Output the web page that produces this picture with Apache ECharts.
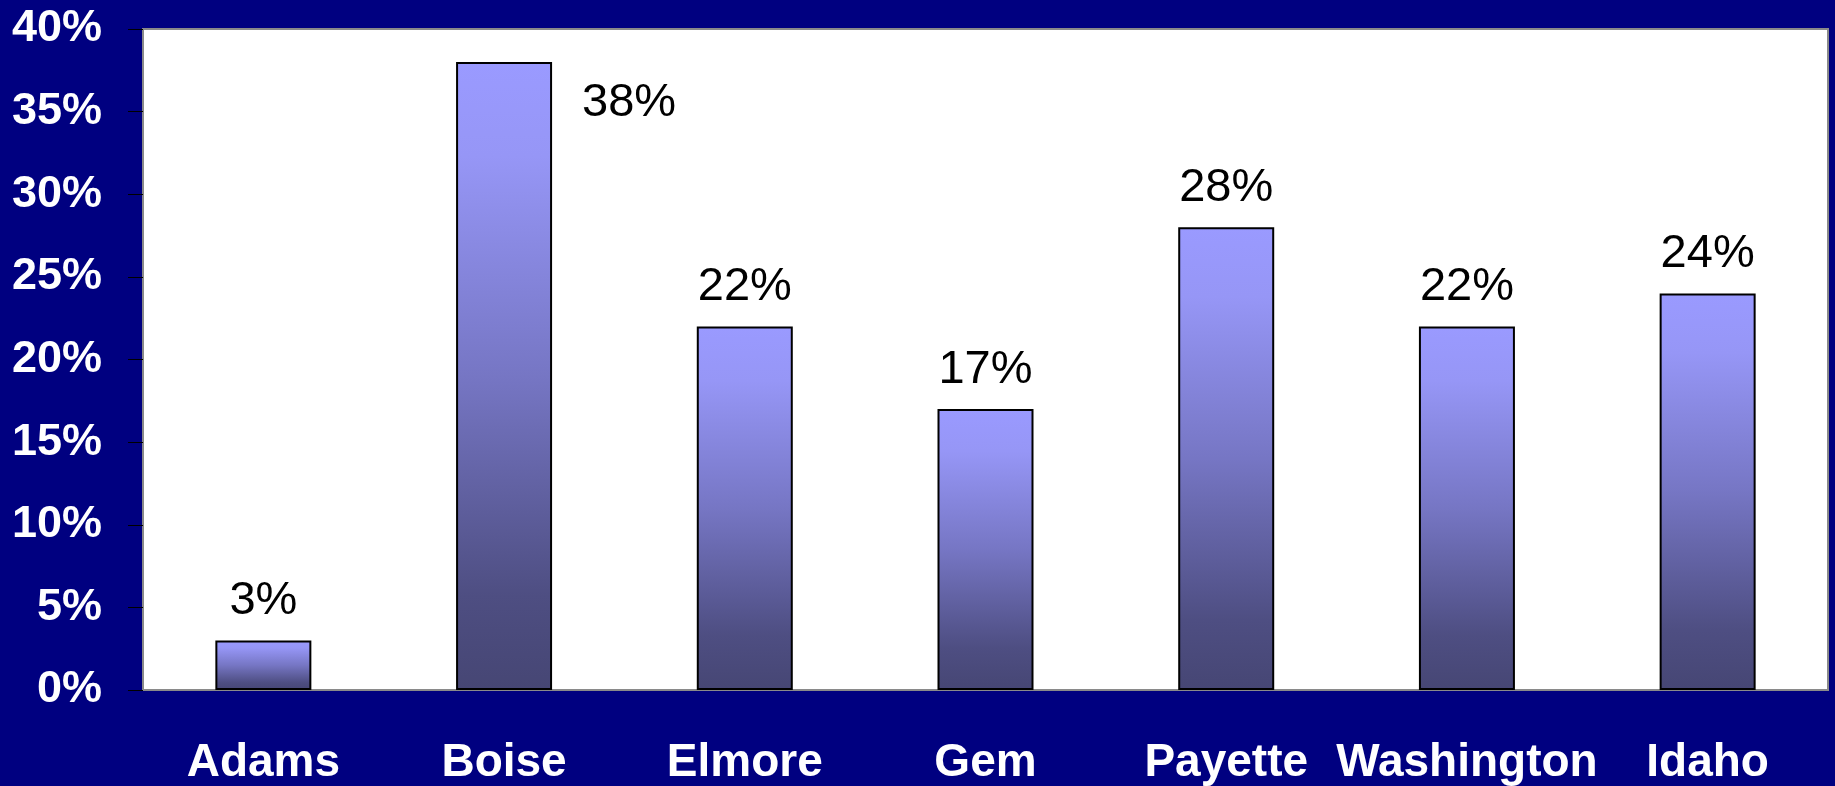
<!DOCTYPE html>
<html>
<head>
<meta charset="utf-8">
<script src="https://cdn.jsdelivr.net/npm/echarts@6/dist/echarts.min.js"></script>
<style>
  html, body { margin: 0; padding: 0; background: #000080; }
  #chart { width: 1835px; height: 786px; }
</style>
</head>
<body>
<div id="chart"></div>
<script>
const counties = ['Adams', 'Boise', 'Elmore', 'Gem', 'Payette', 'Washington', 'Idaho']
const percents = [3, 38, 22, 17, 28, 22, 24]
const yTicks = [0, 5, 10, 15, 20, 25, 30, 35, 40]

const chart = echarts.init(document.getElementById('chart'))

const barFill = new echarts.graphic.LinearGradient(0, 0, 0, 1, [
  { offset: 0, color: '#9a9aff' },
  { offset: 0.15, color: '#9696f6' },
  { offset: 0.5, color: '#7676c4' },
  { offset: 0.85, color: '#4e4e82' },
  { offset: 1, color: '#464674' }
])

const barData = percents.map((v, i) => {
  const item = { value: v }
  // Boise label sits beside the bar top, not above it
  if (counties[i] === 'Boise') {
    item.label = { offset: [125, 80] }
  }
  return item
})

const option = {
  backgroundColor: '#000080',
  animation: false,
  grid: {
    left: 143,
    right: 7,
    top: 29,
    bottom: 94,
    show: true,
    backgroundColor: '#ffffff',
    borderColor: '#8a8a8a',
    borderWidth: 2
  },
  xAxis: {
    type: 'category',
    data: counties,
    axisLine: { lineStyle: { color: '#8a8a8a', width: 2 } },
    axisTick: { length: 15, lineStyle: { color: '#000000', width: 1 } },
    axisLabel: {
      interval: 0,
      color: '#ffffff',
      fontFamily: 'Liberation Sans',
      fontWeight: 'bold',
      fontSize: 46,
      margin: 50
    }
  },
  yAxis: {
    type: 'value',
    min: yTicks[0],
    max: yTicks[yTicks.length - 1],
    interval: 5,
    splitLine: { show: false },
    axisLine: { show: true, lineStyle: { color: '#8a8a8a', width: 2 } },
    axisTick: { show: true, length: 15, lineStyle: { color: '#000000', width: 1 } },
    axisLabel: {
      color: '#ffffff',
      fontFamily: 'Liberation Sans',
      fontWeight: 'bold',
      fontSize: 45,
      margin: 41,
      formatter: '{value}%'
    }
  },
  series: [
    {
      type: 'bar',
      data: barData,
      barWidth: 96,
      itemStyle: {
        color: barFill,
        borderColor: '#000000',
        borderWidth: 2
      },
      label: {
        show: true,
        position: 'top',
        distance: 16,
        color: '#000000',
        fontFamily: 'Liberation Sans',
        fontSize: 47,
        formatter: '{c}%'
      }
    }
  ]
}

chart.setOption(option)
</script>
</body>
</html>
